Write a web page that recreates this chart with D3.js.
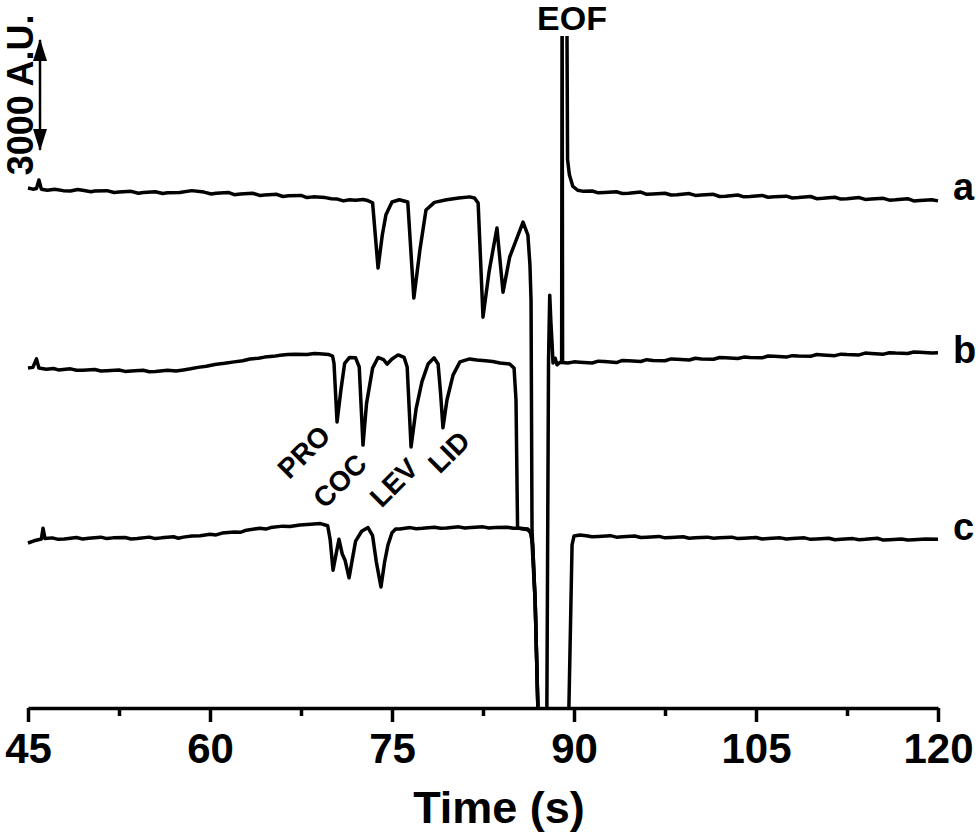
<!DOCTYPE html>
<html>
<head>
<meta charset="utf-8">
<script src="https://cdn.jsdelivr.net/npm/d3@7"></script>
<style>
  body { margin: 0; background: #fff; }
  text { font-family: "Liberation Sans", Arial, sans-serif; font-weight: bold; fill: #000; }
</style>
</head>
<body>
<div id="chart"></div>
<script>
// time (s), signal (A.U.); null = trace off scale (clipped)
const traceA = [
  [45.0,14180],[45.4,14150],[45.7,14170],[45.9,14400],[46.1,14150],[46.6,14120],[47.2,14150],[47.9,14110],
  [48.5,14100],[49.1,14140],[49.5,14120],[50.2,14080],[50.5,14100],[51.5,14110],[52.1,14060],[52.5,14070],
  [53.5,14090],[54.1,14040],[54.5,14060],[55.5,14080],[56.1,14030],[56.5,14050],[57.5,14060],[58.5,14110],
  [59.5,14070],[60.1,14020],[60.5,14040],[61.5,14060],[62.0,14000],[62.5,14020],[63.5,14040],[64.1,13980],
  [64.5,13990],[65.5,14010],[66.0,13950],[66.5,13970],[67.5,13980],[68.0,13920],[68.5,13940],[69.5,13920],
  [70.0,13890],[70.5,13880],[71.0,13830],[71.5,13860],[72.0,13850],[72.6,13870],[73.0,13840],[73.4,13780],
  [73.85,12000],[74.2,12900],[74.5,13450],[75.0,13800],[75.6,13860],[76.3,13800],[76.8,11180],[77.3,12490],
  [77.8,13580],[78.5,13790],[79.5,13860],[80.5,13910],[81.4,13940],[81.8,13910],[82.1,13770],[82.5,10660],
  [83.0,11900],[83.65,13090],[84.15,11340],[84.7,12300],[85.8,13250],[86.2,12900],[86.37,12080],
  [86.46,11100],[86.54,4850],[86.8,2900],[87.1,-1000],
  null,
  [89.40,20000],[89.47,14950],[89.62,14540],[89.9,14230],[90.3,14120],[90.8,14090],[91.5,14100],[92.0,14050],
  [92.5,14060],[93.5,14080],[94.0,14030],[94.5,14040],[95.5,14070],[96.0,14010],[96.5,14020],[97.5,14040],
  [98.0,13990],[98.5,14000],[99.5,14030],[100.0,13980],[100.5,13990],[101.5,14010],[102.0,13950],
  [102.5,13960],[103.5,13990],[104.0,13940],[104.5,13950],[105.5,13980],[106.0,13930],[106.5,13940],
  [107.5,13960],[108.0,13910],[108.5,13920],[109.5,13950],[110.0,13890],[110.5,13900],[111.5,13930],
  [112.0,13880],[112.5,13890],[113.5,13920],[114.0,13870],[114.5,13880],[115.5,13900],[116.0,13850],
  [116.5,13860],[117.5,13890],[118.0,13830],[118.5,13840],[119.5,13860],[120.0,13830]
];

const traceB = [
  [45.0,9270],[45.4,9290],[45.7,9520],[45.9,9270],[46.5,9240],[47.1,9260],[47.5,9220],[48.5,9250],
  [49.0,9210],[49.5,9210],[50.5,9230],[51.0,9190],[51.5,9200],[52.5,9220],[53.0,9180],[53.5,9190],
  [54.5,9210],[55.0,9170],[55.5,9180],[56.5,9210],[57.2,9190],[57.8,9220],[58.4,9250],[59.0,9290],
  [59.7,9320],[60.4,9370],[61.2,9400],[62.0,9440],[62.7,9470],[63.3,9520],[64.0,9540],[64.5,9570],
  [65.2,9590],[65.8,9620],[66.4,9640],[67.0,9650],[68.0,9640],[68.6,9670],[69.0,9660],[69.8,9640],
  [70.1,9600],[70.22,9400],[70.47,7800],[70.8,8700],[71.1,9400],[71.5,9560],[72.0,9550],[72.3,9300],
  [72.61,7170],[72.9,8300],[73.4,9270],[73.85,9560],[74.3,9500],[74.6,9380],[75.0,9520],[75.5,9630],
  [76.0,9560],[76.25,9300],[76.57,7120],[76.98,8150],[77.47,8900],[77.97,9380],[78.46,9550],[78.8,9380],
  [79.0,8600],[79.2,7640],[79.53,8400],[80.03,9080],[80.6,9440],[81.4,9520],[82.0,9490],[82.7,9470],
  [83.3,9450],[83.9,9410],[84.7,9380],[85.06,9270],[85.22,8400],[85.35,4910],[86.2,4860],[86.5,4750],
  [86.8,2900],[87.1,-1000],[87.75,-1000],[87.9,9500],[88.0,11260],[88.1,10500],[88.2,9900],[88.27,9410],
  [88.45,9540],[88.6,9360],[88.85,9430],[88.98,9420],[89.02,20000],[89.06,9420],[89.5,9410],[90.0,9440],
  [90.5,9430],[91.5,9410],[92.0,9460],[92.5,9450],[93.5,9420],[94.0,9480],[94.5,9470],[95.5,9450],
  [96.0,9500],[96.5,9480],[97.5,9470],[98.0,9520],[98.5,9510],[99.5,9490],[100.0,9540],[100.5,9520],
  [101.5,9510],[102.0,9560],[102.5,9550],[103.5,9530],[104.0,9570],[104.5,9560],[105.5,9550],[106.0,9600],
  [106.5,9590],[107.5,9570],[108.0,9610],[108.5,9600],[109.5,9590],[110.0,9640],[110.5,9630],[111.5,9610],
  [112.0,9650],[112.5,9640],[113.5,9630],[114.0,9680],[114.5,9670],[115.5,9650],[116.0,9690],[116.5,9680],
  [117.5,9670],[118.0,9710],[118.5,9700],[119.5,9680],[120.0,9690]
];

const traceC = [
  [45.0,4500],[45.5,4560],[46.1,4610],[46.24,4900],[46.4,4620],[47.0,4640],[47.5,4600],[48.0,4610],
  [49.0,4650],[49.5,4610],[50.0,4630],[51.0,4660],[51.5,4620],[52.0,4640],[53.0,4650],[53.5,4610],
  [54.0,4620],[55.0,4660],[55.5,4620],[56.0,4640],[57.0,4670],[57.4,4630],[57.8,4660],[58.5,4690],
  [59.2,4700],[60.0,4740],[60.5,4720],[61.0,4770],[62.0,4800],[62.5,4790],[63.0,4850],[64.1,4900],
  [64.6,4880],[65.0,4920],[66.0,4960],[66.6,4950],[67.4,4990],[68.3,5010],[69.1,5030],[69.7,4970],
  [69.9,4600],[70.14,3760],[70.45,4300],[70.63,4600],[70.9,4200],[71.13,4030],[71.46,3550],[71.7,4000],
  [72.0,4550],[72.5,4820],[73.02,4920],[73.4,4700],[73.7,4000],[74.09,3300],[74.4,4000],[74.67,4450],
  [75.0,4780],[75.3,4880],[75.66,4880],[76.5,4920],[77.0,4890],[77.5,4900],[78.5,4930],[79.0,4900],
  [79.5,4910],[80.5,4940],[81.0,4910],[81.5,4920],[82.5,4940],[83.0,4910],[83.5,4920],[84.5,4930],
  [85.0,4900],[85.5,4900],[86.2,4880],[86.4,4800],[86.6,4450],[86.8,2900],[87.1,-1000],
  [89.55,-500],[89.84,4450],[90.0,4690],[90.5,4720],[91.0,4700],[91.5,4670],[92.0,4680],[93.0,4700],
  [93.5,4660],[94.0,4670],[95.0,4690],[95.5,4650],[96.0,4660],[97.0,4680],[97.5,4640],[98.0,4650],
  [99.0,4670],[99.5,4630],[100.0,4640],[101.0,4660],[101.5,4630],[102.0,4640],[103.0,4660],[103.5,4620],
  [104.0,4630],[105.0,4650],[105.5,4610],[106.0,4620],[107.0,4640],[107.5,4610],[108.0,4620],[109.0,4640],
  [109.5,4600],[110.0,4610],[111.0,4630],[111.5,4590],[112.0,4600],[113.0,4620],[113.5,4590],[114.0,4600],
  [115.0,4630],[115.5,4580],[116.0,4590],[117.0,4610],[117.5,4580],[118.0,4590],[119.0,4610],[120.0,4600]
];

const traceNames = ["a", "b", "c"];
const majorTicks = [45, 60, 75, 90, 105, 120];
const minorTicks = [52.5, 67.5, 82.5, 97.5, 112.5];

// peak labels: name, time, A.U. where the label sits
const peakNames = ["PRO", "COC", "LEV", "LID"];
const peakTimes = [67.75, 70.71, 75.17, 79.70];
const peakLevels = [6980, 6190, 6140, 6980];

const scaleBar = 3000; // A.U.

const width = 980, height = 838;
const plotLeft = 28, plotRight = 938, plotTop = 36, plotBottom = 708;

const svg = d3.select("#chart").append("svg")
  .attr("width", width)
  .attr("height", height);

const x = d3.scaleLinear().domain([45, 120]).range([plotLeft, plotRight]);
const y = d3.scaleLinear().domain([0, 18000]).range([plotBottom, 48]);

svg.append("clipPath").attr("id", "plotClip")
  .append("rect")
  .attr("x", plotLeft - 2).attr("y", plotTop)
  .attr("width", plotRight - plotLeft + 4).attr("height", plotBottom - plotTop);

const line = d3.line()
  .defined(d => d !== null)
  .x(d => x(d[0]))
  .y(d => y(d[1]));

const traces = [traceA, traceB, traceC];

svg.append("g").attr("clip-path", "url(#plotClip)")
  .selectAll("path")
  .data(traces)
  .join("path")
  .attr("d", line)
  .attr("fill", "none")
  .attr("stroke", "#000")
  .attr("stroke-width", 3.5)
  .attr("stroke-linejoin", "round");

// trace names on the right
const labelDy = [-1, 10, 1];
svg.selectAll(".trace-name")
  .data(traceNames)
  .join("text")
  .attr("class", "trace-name")
  .attr("x", x(120) + 15)
  .attr("y", (d, i) => y(traces[i][traces[i].length - 1][1]) + labelDy[i])
  .style("font-size", "38px")
  .text(d => d);

// peak names, rotated
svg.selectAll(".peak")
  .data(peakNames)
  .join("text")
  .attr("class", "peak")
  .attr("transform", (d, i) => `translate(${x(peakTimes[i])},${y(peakLevels[i])}) rotate(-45)`)
  .attr("text-anchor", "middle")
  .attr("dominant-baseline", "central")
  .style("font-size", "28px")
  .text(d => d);

svg.append("text")
  .attr("x", x(89.84))
  .attr("y", 30)
  .attr("text-anchor", "middle")
  .style("font-size", "34px")
  .text("EOF");

// scale bar: 3000 A.U.
const barX = x(45.99);
const barTop = y(18220), barBottom = y(18220 - scaleBar);
svg.append("defs").append("marker")
  .attr("id", "head")
  .attr("viewBox", "0 0 22 14")
  .attr("refX", 21).attr("refY", 7)
  .attr("markerWidth", 22).attr("markerHeight", 14)
  .attr("markerUnits", "userSpaceOnUse")
  .attr("orient", "auto-start-reverse")
  .append("path")
  .attr("d", "M0,0 L22,7 L0,14 Z")
  .attr("fill", "#000");

svg.append("line")
  .attr("x1", barX).attr("x2", barX)
  .attr("y1", barTop).attr("y2", barBottom)
  .attr("stroke", "#000")
  .attr("stroke-width", 2.5)
  .attr("marker-start", "url(#head)")
  .attr("marker-end", "url(#head)");

svg.append("text")
  .attr("transform", `translate(33,${(barTop + barBottom) / 2}) rotate(-90)`)
  .attr("text-anchor", "middle")
  .style("font-size", "36px")
  .text(scaleBar + " A.U.");

// x axis
const xAxis = svg.append("g")
  .attr("transform", `translate(0,${plotBottom})`)
  .call(d3.axisBottom(x).tickValues(majorTicks).tickFormat(d3.format("d"))
    .tickSizeInner(14).tickSizeOuter(0).tickPadding(11));
xAxis.select(".domain").attr("stroke-width", 3.5);
xAxis.selectAll(".tick line").attr("stroke-width", 3.5);
xAxis.selectAll(".tick text")
  .style("font-family", '"Liberation Sans", Arial, sans-serif')
  .style("font-weight", "bold")
  .style("font-size", "42px");

const xMinor = svg.append("g")
  .attr("transform", `translate(0,${plotBottom})`)
  .call(d3.axisBottom(x).tickValues(minorTicks).tickSize(8).tickFormat(""));
xMinor.select(".domain").remove();
xMinor.selectAll(".tick line").attr("stroke-width", 3.5);

svg.append("text")
  .attr("x", 499)
  .attr("y", 823)
  .attr("text-anchor", "middle")
  .style("font-size", "45px")
  .text("Time (s)");
</script>
</body>
</html>
